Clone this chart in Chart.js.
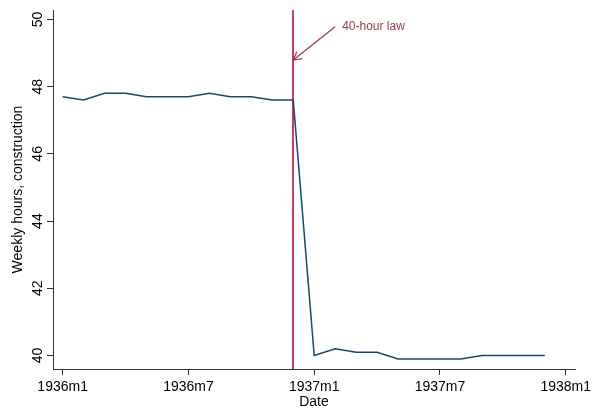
<!DOCTYPE html>
<html>
<head>
<meta charset="utf-8">
<title>Weekly hours, construction</title>
<script src="https://cdn.jsdelivr.net/npm/chart.js@4/dist/chart.umd.min.js"></script>
<style>
  html, body { margin: 0; padding: 0; background: #ffffff; }
  #wrap { width: 603px; height: 409px; }
</style>
</head>
<body>
<div id="wrap"><canvas id="chart" width="603" height="409"></canvas></div>
<script>
// Monthly observations, 1936m1 .. 1937m12
const months = [
  '1936m1', '1936m2', '1936m3', '1936m4', '1936m5', '1936m6',
  '1936m7', '1936m8', '1936m9', '1936m10', '1936m11', '1936m12',
  '1937m1', '1937m2', '1937m3', '1937m4', '1937m5', '1937m6',
  '1937m7', '1937m8', '1937m9', '1937m10', '1937m11', '1937m12'
];
const hours = [
  47.7, 47.6, 47.8, 47.8, 47.7, 47.7,
  47.7, 47.8, 47.7, 47.7, 47.6, 47.6,
  40.0, 40.2, 40.1, 40.1, 39.9, 39.9,
  39.9, 39.9, 40.0, 40.0, 40.0, 40.0
];

// Axis ticks (x ticks are month offsets from 1936m1)
const xTickMonths = [0, 6, 12, 18, 24];
const xTickLabels = ['1936m1', '1936m7', '1937m1', '1937m7', '1938m1'];
const yTickValues = [40, 42, 44, 46, 48, 50];

// Policy marker and its note
const lawMonth = '1936m12';
const lawNote = '40-hour law';
const noteAnchor = { month: 13.0, hours: 49.78 };
const arrowTip = { month: 11.0, hours: 48.79 };

const FONT = 'Liberation Sans, Arial, Helvetica, sans-serif';
const LINE_BLUE = '#1a476f';
const LAW_RED = '#d03a5c';
const NOTE_RED = '#9b3b45';
const AXIS = '#333333';

const points = hours.map((h, i) => ({ x: i, y: h }));

const lawMarker = {
  id: 'lawMarker',
  beforeDatasetsDraw(chart) {
    const { ctx, chartArea, scales } = chart;
    const px = Math.round(scales.x.getPixelForValue(months.indexOf(lawMonth)));
    ctx.save();
    ctx.strokeStyle = LAW_RED;
    ctx.lineWidth = 2;
    ctx.beginPath();
    ctx.moveTo(px, chartArea.top);
    ctx.lineTo(px, chartArea.bottom);
    ctx.stroke();
    ctx.restore();
  },
  afterDatasetsDraw(chart) {
    const { ctx, scales } = chart;
    const x0 = scales.x.getPixelForValue(noteAnchor.month);
    const y0 = scales.y.getPixelForValue(noteAnchor.hours);
    const x1 = scales.x.getPixelForValue(arrowTip.month);
    const y1 = scales.y.getPixelForValue(arrowTip.hours);
    const ang = Math.atan2(y1 - y0, x1 - x0);
    const head = 9, spread = 0.5;
    ctx.save();
    ctx.strokeStyle = NOTE_RED;
    ctx.lineWidth = 1.2;
    ctx.beginPath();
    ctx.moveTo(x0, y0);
    ctx.lineTo(x1, y1);
    ctx.moveTo(x1 - head * Math.cos(ang - spread), y1 - head * Math.sin(ang - spread));
    ctx.lineTo(x1, y1);
    ctx.lineTo(x1 - head * Math.cos(ang + spread), y1 - head * Math.sin(ang + spread));
    ctx.stroke();
    ctx.fillStyle = NOTE_RED;
    ctx.font = '12px ' + FONT;
    ctx.textAlign = 'left';
    ctx.textBaseline = 'middle';
    ctx.fillText(lawNote, x0 + 7, y0);
    ctx.restore();
  }
};

new Chart(document.getElementById('chart'), {
  type: 'line',
  data: {
    datasets: [{
      data: points,
      borderColor: LINE_BLUE,
      borderWidth: 1.5,
      pointRadius: 0,
      tension: 0,
      fill: false
    }]
  },
  options: {
    responsive: false,
    animation: false,
    devicePixelRatio: 1,
    layout: { padding: { top: 10, right: 28, left: 0, bottom: 0 } },
    plugins: { legend: { display: false }, tooltip: { enabled: false } },
    scales: {
      x: {
        type: 'linear',
        min: -0.46,
        max: 24.44,
        afterBuildTicks: s => { s.ticks = xTickMonths.map(v => ({ value: v })); },
        afterFit: s => { s.height = 40; },
        ticks: {
          autoSkip: false,
          maxRotation: 0,
          padding: 4,
          color: '#000',
          font: { family: FONT, size: 14 },
          callback: (v, i) => xTickLabels[i]
        },
        grid: { drawOnChartArea: false, drawTicks: true, tickLength: 6, color: AXIS },
        border: { color: AXIS, width: 1 },
        title: {
          display: true, text: 'Date', color: '#000',
          font: { family: FONT, size: 14 }, padding: { top: 0, bottom: -1.5 }
        }
      },
      y: {
        min: 39.6,
        max: 50.28,
        afterBuildTicks: s => { s.ticks = yTickValues.map(v => ({ value: v })); },
        afterFit: s => { s.width = 53; },
        ticks: {
          minRotation: 90,
          maxRotation: 90,
          crossAlign: 'center',
          padding: 1,
          color: '#000',
          font: { family: FONT, size: 14 }
        },
        grid: { drawOnChartArea: false, drawTicks: true, tickLength: 6, color: AXIS },
        border: { color: AXIS, width: 1 },
        title: {
          display: true, text: 'Weekly hours, construction', color: '#000',
          font: { family: FONT, size: 14 }, padding: { top: 9.6, bottom: 0 }
        }
      }
    }
  },
  plugins: [lawMarker]
});
</script>
</body>
</html>
